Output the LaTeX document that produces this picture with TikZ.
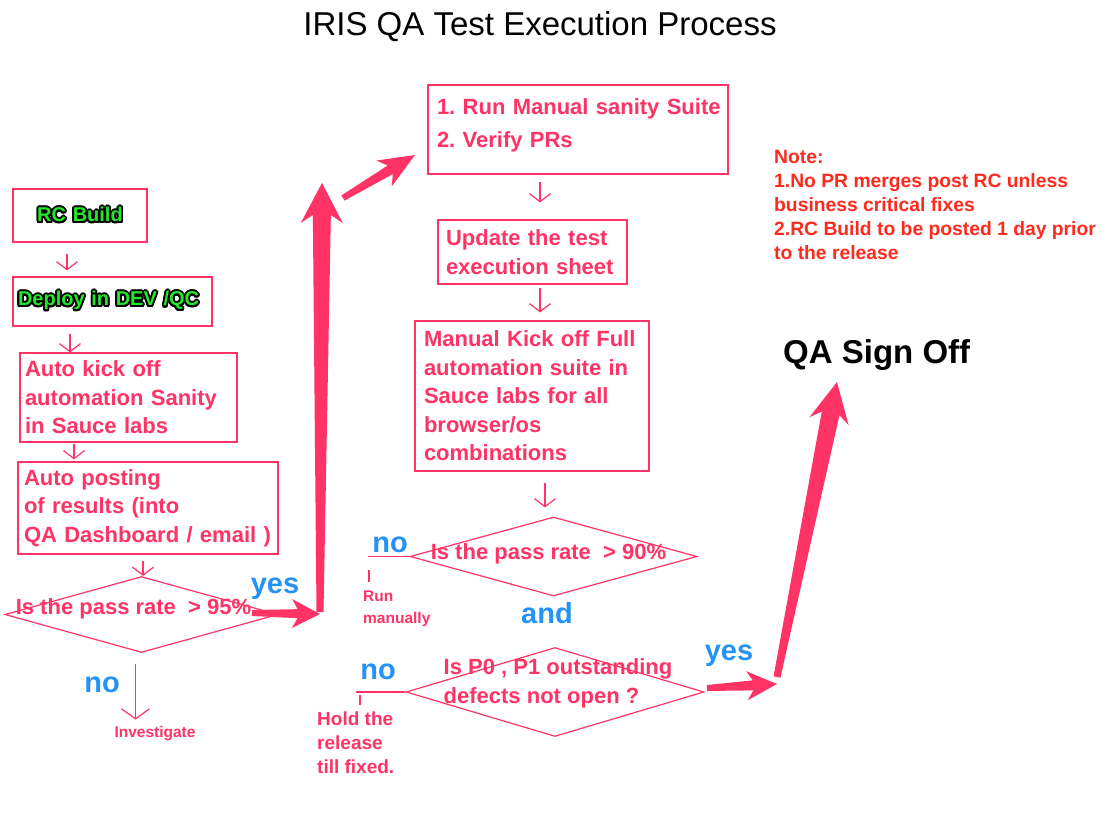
\documentclass[tikz,border=0pt]{standalone}
\usepackage{fontspec}
\setmainfont{Liberation Sans}
\usepackage[copies]{contour}
\usetikzlibrary{arrows.meta,calc,shapes.geometric}
\contourlength{1.8pt}
\contournumber{16}
\frenchspacing

\definecolor{qapink}{HTML}{FF3366}
\definecolor{qablue}{HTML}{2493F5}
\definecolor{qared}{HTML}{FF2A1E}
\definecolor{qagreen}{HTML}{22E82A}

\tikzset{
	box/.style={draw=qapink, line width=1.2pt, text=qapink, align=left,
		font=\bfseries\fontsize{22}{28.5}\selectfont, inner ysep=0pt},
	dia/.style={draw=qapink, line width=1.2pt, diamond, inner sep=0pt},
	qtext/.style={text=qapink, font=\bfseries\fontsize{22}{29}\selectfont, align=left, inner sep=0pt},
	answer/.style={text=qablue, font=\bfseries\fontsize{29}{32}\selectfont, inner sep=0pt, anchor=base},
	remark/.style={text=qapink, font=\bfseries\fontsize{15.5}{22}\selectfont, align=left, inner sep=0pt},
	pinkline/.style={draw=qapink, line width=1.2pt},
	flow/.style={pinkline, -{Straight Barb[length=8pt,width=21pt]}},
}

% 粗箭头: 起点, 终点, 尾半宽, 颈半宽, 头半宽, 头长
\newcommand{\fatarrow}[6]{%
	\coordinate (fa-b) at ($(#2)!#6pt!(#1)$);
	\coordinate (fa-n) at ($(#2)!0.8*#6pt!(#1)$);
	\fill[qapink] ($(#1)!#3pt!90:(#2)$) -- ($(fa-n)!#4pt!90:(#2)$) -- ($(fa-b)!#5pt!90:(#2)$) --
		(#2) -- ($(fa-b)!#5pt!-90:(#2)$) -- ($(fa-n)!#4pt!-90:(#2)$) -- ($(#1)!#3pt!-90:(#2)$) -- cycle;
}

\begin{document}
\begin{tikzpicture}[x=1pt, y=-1pt]
		\fill[white] (0,0) rectangle (1120,816);
		% 标题
		\node[anchor=base, font=\fontsize{33}{36}\selectfont, inner sep=0pt] (title) at (540,36) {IRIS QA Test Execution Process};
		% 左列
		\node[box, text width=124pt, inner xsep=5pt, minimum height=53pt, align=center,
			font=\bfseries\fontsize{20}{24}\selectfont] (rc) at (80,215.5) {\textcolor{qagreen}{\contour{black}{RC Build}}};
		\node[box, text width=189pt, inner xsep=5pt, minimum height=49pt,
			font=\bfseries\fontsize{20}{24}\selectfont] (deploy) at (112.5,301.5) {\textcolor{qagreen}{\contour{black}{Deploy in DEV /QC}}};
		\node[box, text width=207pt, inner xsep=5pt, minimum height=89pt] (kick) at (128.5,397.5)
			{Auto kick off\\automation Sanity\\in Sauce labs};
		\node[box, text width=248pt, inner xsep=6pt, minimum height=92pt] (post) at (148,508)
			{Auto posting\\of results (into\\QA Dashboard / email )};
		\node[dia, minimum width=273pt, minimum height=76pt] (d1) at (141.5,614.5) {};
		\node[qtext, xshift=-8pt, yshift=6pt] (q1) at (d1.center) {Is the pass rate\ \ > 95\%};
		\node[answer] (no1) at (102,692) {no};
		\node[answer] (yes1) at (275,593) {yes};
		\node[remark, anchor=base] (inv) at (155,737) {Investigate};
		\draw[flow, shorten <=11pt, shorten >=6pt] ([xshift=-13pt]rc.south) -- ([xshift=-13pt]rc.south |- deploy.north);
		\draw[flow, shorten <=7pt] ([xshift=-42.5pt]deploy.south) -- ([xshift=-42.5pt]deploy.south |- kick.north);
		\draw[flow, shorten <=1pt, shorten >=2pt] ([xshift=-54.5pt]kick.south) -- ([xshift=-54.5pt]kick.south |- post.north);
		\draw[flow, shorten <=6pt] ([xshift=-5pt]post.south) -- ([xshift=-5pt]post.south |- d1.north);
		\draw[pinkline, -{Straight Barb[length=10pt,width=28pt]}, shorten <=11pt, shorten >=6pt]
			([xshift=-6pt]d1.south) -- ([xshift=-6pt]d1.south |- inv.north);
		% 中列
		\node[box, text width=290pt, inner xsep=5pt, minimum height=89pt, text depth=45pt] (manual) at (578,129.5)
			{\hspace*{4pt}1. Run Manual sanity Suite\\[4.5pt]\hspace*{4pt}2. Verify PRs};
		\node[box, text width=173pt, inner xsep=8pt, minimum height=64pt] (sheet) at (532.5,252)
			{Update the test\\execution sheet};
		\node[box, text width=216pt, inner xsep=9pt, minimum height=150pt] (full) at (532,396)
			{Manual Kick off Full\\automation suite in\\Sauce labs for all\\browser/os\\combinations};
		\node[dia, minimum width=287pt, minimum height=79pt] (d2) at (553.5,556.5) {};
		\node[qtext, xshift=-5pt, yshift=3pt] (q2) at (d2.center) {Is the pass rate\ \ > 90\%};
		\node[answer] (and) at (547,623) {and};
		\node[dia, minimum width=298pt, minimum height=89pt] (d3) at (555,692) {};
		\node[qtext] (q3) at (558,683) {Is P0 , P1 outstanding\\defects not open ?};
		\node[answer] (no2) at (390,552) {no};
		\node[answer] (no3) at (378,679) {no};
		\node[answer] (yes2) at (729,660) {yes};
		\node[remark, anchor=base west] (run) at (363,623) {Run\\manually};
		\node[remark, anchor=base west, font=\bfseries\fontsize{19}{24}\selectfont] (hold) at (317,773) {Hold the\\release\\till fixed.};
		\draw[flow, shorten <=7pt, shorten >=17pt] ([xshift=-38pt]manual.south) -- ([xshift=-38pt]manual.south |- sheet.north);
		\draw[flow, shorten <=3pt, shorten >=8pt] ([xshift=7.5pt]sheet.south) -- ([xshift=7.5pt]sheet.south |- full.north);
		\draw[flow, shorten <=11pt, shorten >=9pt] ([xshift=13pt]full.south) -- ([xshift=13pt]full.south |- d2.north);
		\draw[pinkline] (d2.west) -- ([xshift=-4pt]no2.west |- d2.west);
		\draw[pinkline] ([xshift=6pt,yshift=20pt]run.north west) -- ++(0,12);
		\draw[pinkline] (d3.west) -- ([xshift=-4pt]no3.west |- d3.west);
		\draw[pinkline] ([xshift=43pt,yshift=16pt]hold.north west) -- ++(0,10);
		% 右侧
		\node[anchor=base west, text=qared, align=left, inner sep=0pt,
			font=\bfseries\fontsize{19.3}{24}\selectfont] (note) at (774,259)
			{Note:\\1.No PR merges post RC unless\\business critical fixes\\2.RC Build to be posted 1 day prior\\to the release};
		\node[anchor=base west, inner sep=0pt, font=\bfseries\fontsize{33}{36}\selectfont] (signoff) at (783,363) {QA Sign Off};
		% 粗箭头
		\coordinate (turn1) at (320,614);
		\coordinate (turn2) at (777,684);
		\fatarrow{252,613}{turn1}{3}{4.5}{14.5}{28}
		\fatarrow{320,612}{322,183}{3.5}{9}{21}{40}
		\fatarrow{343,198}{415,155}{3}{5}{15}{36}
		\fatarrow{707,688}{turn2}{3}{5}{14.5}{30}
		\fatarrow{777,677}{837,382}{3.5}{9}{20}{40}
	\end{tikzpicture}
\end{document}
